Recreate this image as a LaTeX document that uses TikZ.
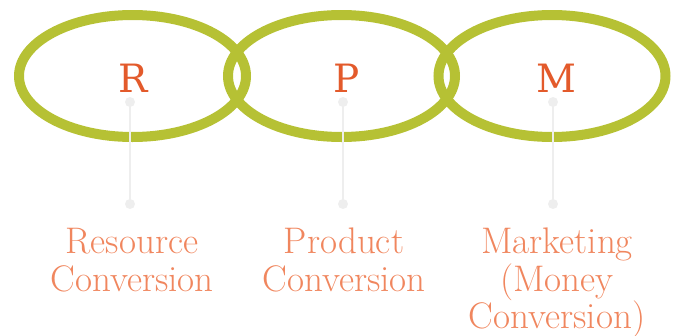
\documentclass[tikz,border=0pt]{standalone}
\usepackage{fontspec}
\newfontfamily\letterfont{DejaVu Serif}
\definecolor{ringgreen}{HTML}{B6C134}
\definecolor{letterorange}{HTML}{E35A2B}
\definecolor{labelorange}{HTML}{F0865E}
\definecolor{stemgray}{HTML}{EEEEEE}
\tikzset{
  ring/.style={draw=ringgreen, line width=10pt},
  letter/.style={text=letterorange, font=\letterfont\fontsize{39}{39}\selectfont, inner sep=0pt, anchor=base},
  label/.style={text=labelorange, font=\fontsize{37}{37.5}\selectfont, align=center, inner sep=0pt, anchor=base},
  stem/.style={draw=stemgray, line width=2.2pt},
  dot/.style={circle, fill=stemgray, minimum size=10pt, inner sep=0pt},
}
\begin{document}
\begin{tikzpicture}[x=1pt,y=-1pt]
\useasboundingbox (0,0) rectangle (678,335);
\draw[ring] (132.5,76) ellipse [x radius=113.5, y radius=61];
\draw[ring] (341.5,76) ellipse [x radius=113.5, y radius=61];
\draw[ring] (552,76) ellipse [x radius=113.5, y radius=61];
\node[letter] (lr) at (133,92) {R};
\node[letter] (lp) at (347,92) {P};
\node[letter] (lm) at (556,92) {M};
\node[dot] (rt) at (130,102) {};
\node[dot] (rb) at (130,204) {};
\node[dot] (pt) at (343,102) {};
\node[dot] (pb) at (343,204) {};
\node[dot] (mt) at (553,102) {};
\node[dot] (mb) at (553,204) {};
\draw[stem] (rt.center) -- (rb.center);
\draw[stem] (pt.center) -- (pb.center);
\draw[stem] (mt.center) -- (mb.center);
\node[label] (tr) at (132,291) {Resource\\Conversion};
\node[label] (tp) at (344,291) {Product\\Conversion};
\node[label] (tm) at (557,328.5) {Marketing\\(Money\\Conversion)};
\end{tikzpicture}
\end{document}
